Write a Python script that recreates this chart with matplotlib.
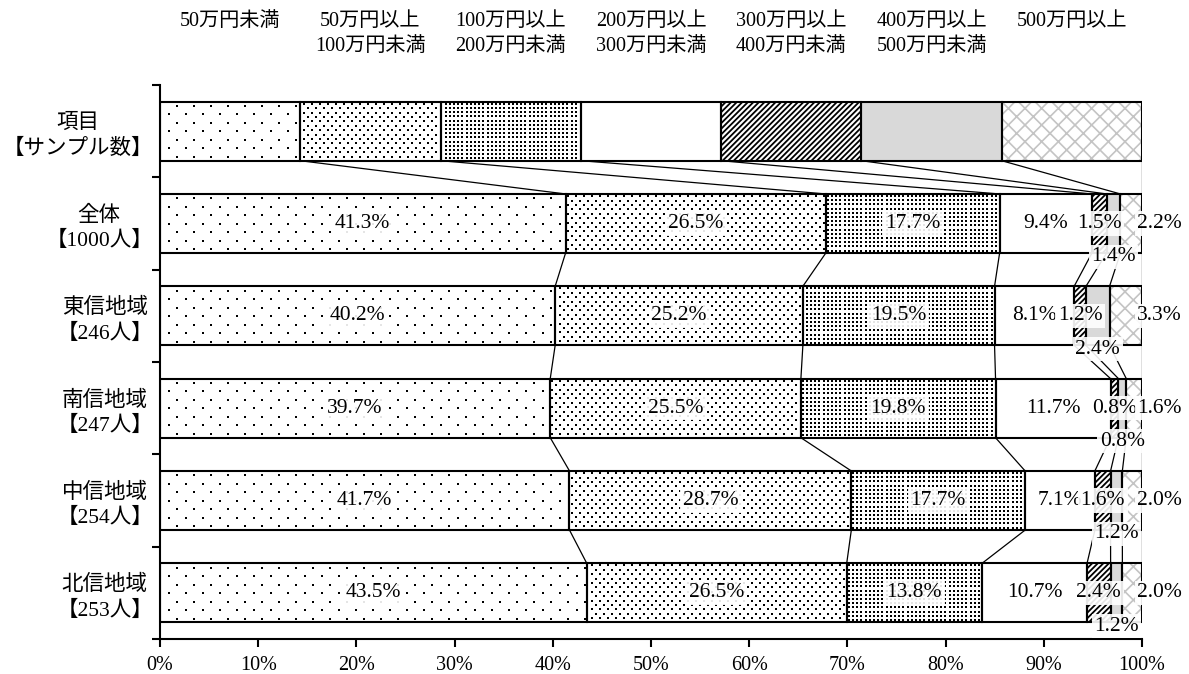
import numpy as np
import matplotlib.pyplot as plt
import matplotlib.transforms as mtransforms

plt.rcParams['font.family'] = ['Liberation Serif', 'Noto Sans CJK JP']

# categories (top to bottom), header row shows the legend segments
categories = ["項目\n【サンプル数】", "全体\n【1000人】", "東信地域\n【246人】",
              "南信地域\n【247人】", "中信地域\n【254人】", "北信地域\n【253人】"]
series_names = ["50万円未満", "50万円以上\n100万円未満", "100万円以上\n200万円未満",
                "200万円以上\n300万円未満", "300万円以上\n400万円未満",
                "400万円以上\n500万円未満", "500万円以上"]

zentai = [41.3, 26.5, 17.7, 9.4, 1.5, 1.4, 2.2]
toshin = [40.2, 25.2, 19.5, 8.1, 1.2, 2.4, 3.3]
nanshin = [39.7, 25.5, 19.8, 11.7, 0.8, 0.8, 1.6]
chushin = [41.7, 28.7, 17.7, 7.1, 1.6, 1.2, 2.0]
hokushin = [43.5, 26.5, 13.8, 10.7, 2.4, 1.2, 2.0]
header = [100 / 7] * 7

rows = [header, zentai, toshin, nanshin, chushin, hokushin]

hatches = [None, None, None, None, '//////', None, 'xx']
faces = ['white', 'white', 'white', 'white', 'white', '#d9d9d9', 'white']
hatch_cols = ['black', 'black', 'black', 'black', 'black', 'black', '#c4c4c4']
hatch_lw = [1, 1, 1, 1, 1.3, 1, 1.2]
# dot textures (px spacing x, px spacing y, staggered, marker size)
dots = {0: (17, 8.5, True, 1.6), 1: (8, 4.4, True, 2.2), 2: (4.2, 4.2, False, 2.0)}

W, H = 1189, 674
fig = plt.figure(figsize=(W / 100, H / 100), dpi=100)
ax_l, ax_r, ax_t, ax_b = 160, 1142, 85, 639
ax = fig.add_axes([ax_l / W, 1 - ax_b / H, (ax_r - ax_l) / W, (ax_b - ax_t) / H])
pxx = (ax_r - ax_l) / 100.0   # px per x unit
pxy = (ax_b - ax_t) / 6.0     # px per y unit

bh = 0.64


def dot_texture(x0, x1, y0, y1, spec):
    dx, dy, stag, s = spec
    px0, px1 = x0 * pxx, x1 * pxx
    py0, py1 = y0 * pxy, y1 * pxy
    ys = np.arange(py0 + dy / 2, py1 - 0.8, dy)
    xs_all, ys_all = [], []
    for k, yy in enumerate(ys):
        off = dx / 2 if (stag and k % 2) else 0
        start = np.floor(px0 / dx) * dx + off
        xs = np.arange(start, px1, dx)
        xs = xs[(xs > px0 + 1.5) & (xs < px1 - 1.5)]
        xs_all.extend(xs / pxx)
        ys_all.extend([yy / pxy] * len(xs))
    ax.scatter(xs_all, ys_all, s=s, marker='s', color='black', linewidths=0, zorder=2.5)


for i, vals in enumerate(rows):
    vals = np.array(vals, dtype=float)
    vals = vals / vals.sum() * 100
    left = np.concatenate([[0], np.cumsum(vals)[:-1]])
    y = i + 0.5
    for j in range(7):
        b = ax.barh(y, vals[j], left=left[j], height=bh, color=faces[j],
                    hatch=hatches[j], edgecolor=hatch_cols[j], linewidth=0, zorder=2)
        if hasattr(b[0], 'set_hatch_linewidth'):
            b[0].set_hatch_linewidth(hatch_lw[j])
        ax.barh(y, vals[j], left=left[j], height=bh, fill=False,
                edgecolor='black', linewidth=1.5, zorder=3)
        if j in dots:
            dot_texture(left[j], left[j] + vals[j], y - bh / 2, y + bh / 2, dots[j])

# series lines between bars
for i in range(len(rows) - 1):
    a = np.array(rows[i], float); a = np.cumsum(a / a.sum() * 100)
    b = np.array(rows[i + 1], float); b = np.cumsum(b / b.sum() * 100)
    for j in range(7):
        ax.plot([a[j], b[j]], [i + 0.5 + bh / 2, i + 1.5 - bh / 2],
                color='black', lw=0.9, zorder=1)

# data labels
box = dict(boxstyle='square,pad=0.12', facecolor='white', edgecolor='none', alpha=0.9)
for i, vals in enumerate(rows[1:], start=1):
    raw = np.array(vals, float)
    v = raw / raw.sum() * 100
    left = np.concatenate([[0], np.cumsum(v)[:-1]])
    y = i + 0.5
    for j in range(7):
        txt = f"{raw[j]:.1f}%"
        cx = left[j] + v[j] / 2
        ty = y
        if j == 5:
            ty = y + bh / 2 + 0.04
        if j == 6:
            cx = 101.8
        ax.text(cx, ty, txt, ha='center', va='center', fontsize=15.5,
                bbox=box, zorder=5, clip_on=False)

# legend text above header segments
trans = mtransforms.blended_transform_factory(ax.transData, fig.transFigure)
for j, name in enumerate(series_names):
    ax.text((j + 0.5) * 100 / 7, 1 - 12 / H, name, transform=trans,
            ha='center', va='top', fontsize=14.5, linespacing=1.4,
            multialignment='center')

ax.set_xlim(0, 100)
ax.set_ylim(6, 0)
ax.set_xticks(np.arange(0, 101, 10))
ax.set_xticklabels([f"{t}%" for t in range(0, 101, 10)], fontsize=14.5)
ax.set_yticks(np.arange(6) + 0.5)
ax.set_yticklabels(categories, fontsize=15.5, multialignment='center', linespacing=1.35)
ax.set_yticks(np.arange(0, 7), minor=True)
ax.tick_params(axis='y', which='major', length=0, pad=5)
ax.tick_params(axis='y', which='minor', length=6, width=1.5, direction='out')
ax.tick_params(axis='x', length=6, width=1.5, direction='out', pad=6)
for s in ['top', 'right']:
    ax.spines[s].set_visible(False)
for s in ['left', 'bottom']:
    ax.spines[s].set_linewidth(1.5)

fig.savefig('out.png', dpi=100)
